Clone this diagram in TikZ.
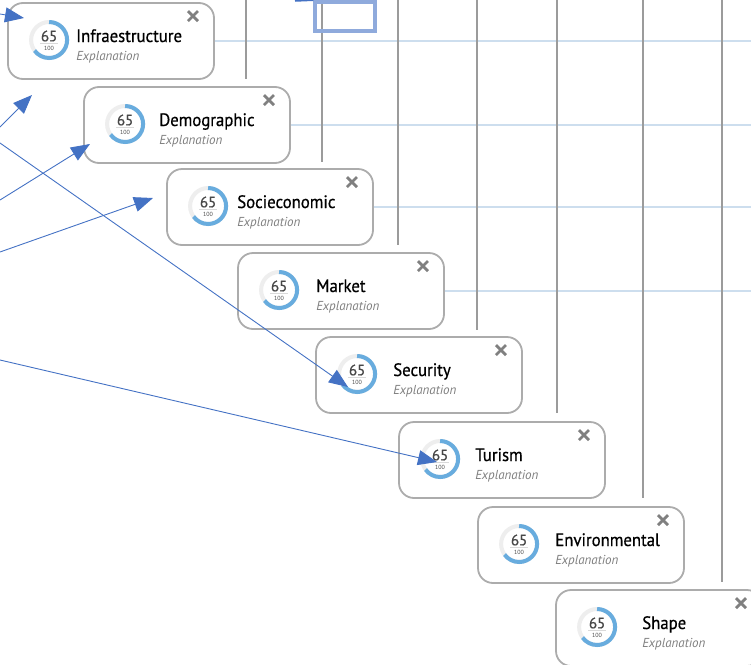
\documentclass[tikz,border=0pt]{standalone}
\usepackage{fontspec}
\setmainfont{PT Sans}
\newfontfamily\cardfont[FakeStretch=0.93,FakeBold=0.6]{PT Sans}
\newfontfamily\numfont[FakeBold=0.8]{PT Sans}
\usepackage{tikz}
\usetikzlibrary{arrows.meta}

\definecolor{arrowblue}{RGB}{68,114,196}
\definecolor{selblue}{RGB}{143,170,220}
\definecolor{gaugeblue}{RGB}{104,172,222}
\definecolor{gaugegray}{RGB}{238,238,238}
\definecolor{cardgray}{RGB}{172,172,172}
\definecolor{railgray}{RGB}{155,155,155}
\definecolor{gridblue}{RGB}{205,222,238}

\tikzset{
  card/.style={draw=cardgray, line width=1.8pt, fill=white, rounded corners=15pt,
    minimum width=206pt, minimum height=76pt, inner sep=0pt},
  gaugebg/.style={draw=gaugegray, line width=4pt},
  gaugefg/.style={draw=gaugeblue, line width=4pt},
  gnum/.style={inner sep=0pt, text=black!72, font=\numfont\fontsize{15}{15}\selectfont},
  gden/.style={inner sep=0pt, text=black!70, font=\fontsize{6}{6}\selectfont},
  gbar/.style={draw=black!15, line width=0.5pt},
  cardtitle/.style={anchor=base west, inner sep=0pt, text=black,
    font=\cardfont\fontsize{18}{20}\selectfont},
  cardexpl/.style={anchor=base west, inner sep=0pt, text=black!50,
    font=\fontsize{13}{14}\selectfont\itshape},
  closex/.style={draw=black!50, line width=2.8pt},
  rail/.style={draw=railgray, line width=2.6pt},
  gridline/.style={draw=gridblue, line width=1.4pt},
  selbox/.style={draw=selblue, line width=3.5pt, minimum width=60pt, minimum height=29pt, inner sep=0pt},
  link/.style={arrowblue, line width=0.9pt, -{Triangle[length=19pt,width=15pt]}}
}

% name, centre, title, title offset
\newcommand{\gaugecard}[4]{%
  \node[card] (#1) at (#2) {};
  \coordinate (#1-g) at ([xshift=42pt,yshift=1pt]#1.west);
  \draw[gaugebg] (#1-g) circle[radius=18pt];
  \draw[gaugefg] ([shift={(90:18pt)}]#1-g) arc[start angle=90, end angle=-144, radius=18pt];
  \node[gnum] (#1-num) at ([yshift=4pt]#1-g) {65};
  \draw[gbar] ([shift={(-9pt,-3pt)}]#1-g) -- ([shift={(9pt,-3pt)}]#1-g);
  \node[gden] (#1-den) at ([yshift=-8pt]#1-g) {100};
  \node[cardtitle] (#1-title) at ([shift={(#4pt,-1pt)}]#1.west) {#3};
  \node[cardexpl] (#1-expl) at ([shift={(#4pt,-19pt)}]#1.west) {Explanation};
  \draw[closex] ([shift={(-27pt,-9pt)}]#1.north east) -- ([shift={(-17pt,-19pt)}]#1.north east);
  \draw[closex] ([shift={(-27pt,-19pt)}]#1.north east) -- ([shift={(-17pt,-9pt)}]#1.north east);
}

\begin{document}
\begin{tikzpicture}[x=1pt,y=-1pt]
  \useasboundingbox (0,0) rectangle (751,664);

  % the cards
  \gaugecard{infra}{111,41}{Infraestructure}{69}
  \gaugecard{demo}{187,125}{Demographic}{76}
  \gaugecard{socio}{270,207}{Socieconomic}{71}
  \gaugecard{market}{341,291}{Market}{79}
  \gaugecard{secur}{419,375}{Security}{78}
  \gaugecard{turism}{502,460}{Turism}{77}
  \gaugecard{envir}{581,545}{Environmental}{78}
  \gaugecard{shape}{659,628}{Shape}{87}

  % grid lines to the right
  \draw[gridline] (infra.east) -- (infra.east -| 751,0);
  \draw[gridline] (demo.east) -- (demo.east -| 751,0);
  \draw[gridline] (socio.east) -- (socio.east -| 751,0);
  \draw[gridline] (market.east) -- (market.east -| 751,0);

  % rails from the top
  \draw[rail] (246,0) -- (246,79);
  \draw[rail] (322,0) -- (322,162);
  \draw[rail] (398,0) -- (398,245);
  \draw[rail] (477,0) -- (477,330);
  \draw[rail] (557,0) -- (557,413);
  \draw[rail] (643,0) -- (643,498);
  \draw[rail] (722,0) -- (722,582);

  \node[selbox] (sel) at (345,16.5) {};

  % arrows
  \coordinate (in1) at (0,14);   \coordinate (to1) at (24,18);
  \coordinate (in2) at (0,127);  \coordinate (to2) at (32,95);
  \coordinate (in3) at (0,200);  \coordinate (to3) at (90,144);
  \coordinate (in4) at (0,252);  \coordinate (to4) at (153,198);
  \coordinate (in5) at (0,143);  \coordinate (to5) at (348,387);
  \coordinate (in6) at (0,360);  \coordinate (to6) at (437,462);
  \coordinate (in7) at (295,1);

  \draw[link] (in1) -- (to1);
  \draw[link] (in2) -- (to2);
  \draw[link] (in3) -- (to3);
  \draw[link] (in4) -- (to4);
  \draw[link] (in5) -- (to5);
  \draw[link] (in6) -- (to6);
  \draw[arrowblue, line width=1.5pt] (in7) -- (sel.north west);
\end{tikzpicture}
\end{document}
